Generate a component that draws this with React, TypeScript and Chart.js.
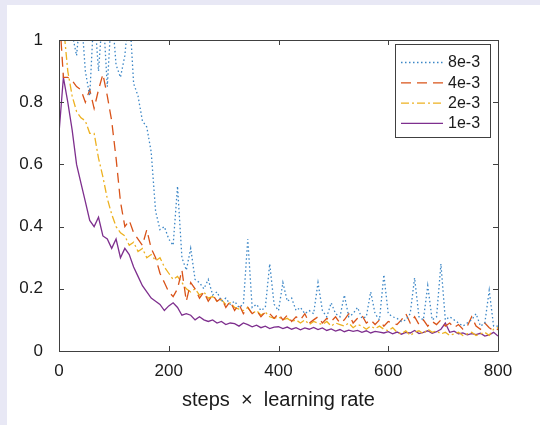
import React, { useEffect, useRef } from "react";
import { Chart, registerables } from "chart.js";

Chart.register(...registerables);

const steps = [
  0, 8, 16, 24, 32, 40, 48, 56, 64, 72, 80, 88, 96, 104, 112, 120, 128, 136, 144, 152,
  160, 168, 176, 184, 192, 200, 208, 216, 224, 232, 240, 248, 256, 264, 272, 280, 288, 296, 304, 312,
  320, 328, 336, 344, 352, 360, 368, 376, 384, 392, 400, 408, 416, 424, 432, 440, 448, 456, 464, 472,
  480, 488, 496, 504, 512, 520, 528, 536, 544, 552, 560, 568, 576, 584, 592, 600, 608, 616, 624, 632,
  640, 648, 656, 664, 672, 680, 688, 696, 704, 712, 720, 728, 736, 744, 752, 760, 768, 776, 784, 792, 800,
];

const lr8e3 = [
  1.1, 1.05, 1.1, 1.02, 0.95, 1.1, 0.9, 0.82, 1.1, 0.9, 1.1, 0.85, 1.1, 0.92, 0.88, 0.95, 1.1, 0.86, 0.82, 0.74,
  0.72, 0.64, 0.45, 0.39, 0.4, 0.36, 0.34, 0.53, 0.3, 0.26, 0.33, 0.23, 0.22, 0.2, 0.23, 0.18, 0.19, 0.16, 0.17, 0.15,
  0.16, 0.14, 0.15, 0.36, 0.14, 0.15, 0.13, 0.14, 0.28, 0.15, 0.13, 0.22, 0.16, 0.17, 0.13, 0.14, 0.12, 0.13, 0.12, 0.22,
  0.13, 0.11, 0.155, 0.12, 0.11, 0.18, 0.11, 0.12, 0.14, 0.105, 0.11, 0.19, 0.12, 0.1, 0.245, 0.12, 0.11, 0.105, 0.095, 0.1,
  0.12, 0.235, 0.11, 0.1, 0.21, 0.1, 0.11, 0.28, 0.1, 0.11, 0.1, 0.09, 0.08, 0.09, 0.1, 0.12, 0.08, 0.09, 0.195, 0.08, 0.08,
];

const lr4e3 = [
  1.1, 0.88, 0.88, 0.87, 0.85, 0.84, 0.8, 0.84, 0.78, 0.84, 0.89, 0.82, 0.74, 0.62, 0.48, 0.4, 0.42, 0.38, 0.36, 0.34,
  0.39, 0.33, 0.3, 0.25, 0.22, 0.19, 0.175, 0.2, 0.26, 0.16, 0.22, 0.2, 0.17, 0.19, 0.16, 0.18, 0.16, 0.17, 0.14, 0.16,
  0.13, 0.15, 0.12, 0.14, 0.12, 0.13, 0.11, 0.125, 0.12, 0.105, 0.12, 0.1, 0.115, 0.095, 0.11, 0.1, 0.12, 0.09, 0.1, 0.11,
  0.09, 0.105, 0.095, 0.11, 0.09, 0.1, 0.12, 0.09, 0.105, 0.115, 0.09, 0.1, 0.085, 0.1, 0.08, 0.095, 0.09, 0.085, 0.1, 0.12,
  0.09, 0.11, 0.085, 0.1, 0.08, 0.095, 0.085, 0.1, 0.08, 0.09, 0.075, 0.085, 0.07, 0.08, 0.11, 0.08, 0.07, 0.09, 0.075, 0.065, 0.07,
];

const lr2e3 = [
  1.05, 1.05, 0.9, 0.82, 0.77, 0.75, 0.74, 0.7, 0.7, 0.62, 0.56, 0.49, 0.44, 0.4, 0.38, 0.37, 0.34, 0.35, 0.32, 0.33,
  0.3, 0.31, 0.29, 0.3, 0.27, 0.25, 0.23, 0.24, 0.22, 0.2, 0.19, 0.2, 0.18, 0.19, 0.17, 0.175, 0.16, 0.165, 0.15, 0.155,
  0.14, 0.135, 0.13, 0.14, 0.12, 0.13, 0.115, 0.125, 0.11, 0.105, 0.11, 0.1, 0.105, 0.095, 0.1, 0.09, 0.1, 0.085, 0.095, 0.09,
  0.085, 0.095, 0.08, 0.09, 0.085, 0.08, 0.09, 0.075, 0.085, 0.08, 0.07, 0.08, 0.072, 0.08, 0.07, 0.065, 0.075, 0.06, 0.055, 0.065,
  0.05, 0.06, 0.065, 0.055, 0.07, 0.06, 0.065, 0.055, 0.06, 0.05, 0.055, 0.06, 0.05, 0.055, 0.06, 0.05, 0.055, 0.06, 0.05, 0.07, 0.075,
];

const lr1e3 = [
  0.7, 0.88, 0.8, 0.71, 0.6, 0.54, 0.48, 0.42, 0.4, 0.43, 0.37, 0.36, 0.33, 0.36, 0.3, 0.33, 0.31, 0.27, 0.24, 0.21,
  0.19, 0.17, 0.16, 0.15, 0.13, 0.145, 0.155, 0.14, 0.115, 0.12, 0.115, 0.1, 0.11, 0.1, 0.095, 0.1, 0.09, 0.095, 0.085, 0.09,
  0.088, 0.08, 0.09, 0.085, 0.078, 0.083, 0.075, 0.08, 0.072, 0.077, 0.078, 0.072, 0.077, 0.07, 0.075, 0.068, 0.074, 0.07, 0.076, 0.069,
  0.074, 0.066, 0.071, 0.064, 0.069, 0.062, 0.067, 0.063, 0.066, 0.06, 0.065, 0.058, 0.063, 0.061, 0.058, 0.062, 0.055, 0.061, 0.054, 0.06,
  0.058, 0.066, 0.056, 0.06, 0.065, 0.057, 0.062, 0.07, 0.09, 0.06, 0.064, 0.055, 0.058, 0.052, 0.056, 0.053, 0.057, 0.048, 0.052, 0.06, 0.048,
];

const seriesLabels = ["8e-3", "4e-3", "2e-3", "1e-3"];
const seriesColors = ["#3b86c6", "#d95319", "#edb120", "#7e2f8e"];
const seriesDashes = [[1.5, 2.5], [10, 6], [8, 3, 2, 3], []];
const xTicks = [0, 200, 400, 600, 800];
const yTicks = [0, 0.2, 0.4, 0.6, 0.8, 1];

const AXIS_COLOR = "#404040";
const TEXT_COLOR = "#1a1a1a";
const FONT = "'Liberation Sans', Arial, sans-serif";

const boxPlugin = {
  id: "matlabBox",
  afterDatasetsDraw(chart: any) {
    const { ctx, chartArea } = chart;
    const { left, right, top, bottom } = chartArea;
    const xs = chart.scales.x;
    const ys = chart.scales.y;
    ctx.save();
    ctx.strokeStyle = AXIS_COLOR;
    ctx.lineWidth = 1;
    ctx.setLineDash([]);
    ctx.beginPath();
    ctx.rect(Math.round(left) + 0.5, Math.round(top) + 0.5, Math.round(right - left), Math.round(bottom - top));
    ctx.stroke();
    const tl = 5;
    ctx.beginPath();
    xTicks.forEach((v) => {
      const px = Math.round(xs.getPixelForValue(v)) + 0.5;
      ctx.moveTo(px, bottom);
      ctx.lineTo(px, bottom - tl);
      ctx.moveTo(px, top);
      ctx.lineTo(px, top + tl);
    });
    yTicks.forEach((v) => {
      const py = Math.round(ys.getPixelForValue(v)) + 0.5;
      ctx.moveTo(left, py);
      ctx.lineTo(left + tl, py);
      ctx.moveTo(right, py);
      ctx.lineTo(right - tl, py);
    });
    ctx.stroke();

    // legend
    const bw = 95;
    const bh = 93;
    const bx = Math.round(right) - 8 - bw;
    const by = Math.round(top) + 4;
    ctx.fillStyle = "#ffffff";
    ctx.fillRect(bx, by, bw, bh);
    ctx.strokeStyle = AXIS_COLOR;
    ctx.strokeRect(bx + 0.5, by + 0.5, bw, bh);
    ctx.font = `16px ${FONT}`;
    ctx.textBaseline = "middle";
    ctx.textAlign = "left";
    seriesLabels.forEach((lab, i) => {
      const ly = by + 18 + i * 20.3;
      ctx.beginPath();
      ctx.strokeStyle = seriesColors[i];
      ctx.lineWidth = 1.3;
      ctx.setLineDash(seriesDashes[i]);
      ctx.moveTo(bx + 6, ly + 0.5);
      ctx.lineTo(bx + 48, ly + 0.5);
      ctx.stroke();
      ctx.setLineDash([]);
      ctx.fillStyle = TEXT_COLOR;
      ctx.fillText(lab, bx + 53, ly + 1);
    });
    ctx.restore();
  },
};

export default function App() {
  const ref = useRef<HTMLCanvasElement | null>(null);
  useEffect(() => {
    if (!ref.current) return;
    const series = [lr8e3, lr4e3, lr2e3, lr1e3];
    const chart = new Chart(ref.current, {
      type: "line",
      data: {
        labels: steps,
        datasets: series.map((d, i) => ({
          label: seriesLabels[i],
          data: d,
          borderColor: seriesColors[i],
          borderWidth: 1.3,
          borderDash: seriesDashes[i],
          pointRadius: 0,
          tension: 0,
          fill: false,
          clip: 0,
        })),
      },
      options: {
        responsive: false,
        animation: false,
        events: [],
        layout: { padding: { left: 0, top: 35, right: 42, bottom: 0 } },
        plugins: { legend: { display: false }, tooltip: { enabled: false } },
        scales: {
          x: {
            type: "linear",
            min: 0,
            max: 800,
            afterFit: (s: any) => {
              s.height = 74;
            },
            afterBuildTicks: (s: any) => {
              s.ticks = xTicks.map((v) => ({ value: v }));
            },
            grid: { display: false },
            border: { display: false },
            ticks: {
              padding: 2,
              color: TEXT_COLOR,
              font: { family: FONT, size: 17 },
              maxRotation: 0,
              autoSkip: false,
              callback: (v: any) => String(v),
            },
            title: {
              display: true,
              text: "steps  ×  learning rate",
              color: TEXT_COLOR,
              font: { family: FONT, size: 20 },
              padding: { top: 0, bottom: 13 },
            },
          },
          y: {
            type: "linear",
            min: 0,
            max: 1,
            afterFit: (s: any) => {
              s.width = 52;
            },
            afterBuildTicks: (s: any) => {
              s.ticks = yTicks.map((v) => ({ value: v }));
            },
            grid: { display: false },
            border: { display: false },
            ticks: {
              padding: 8,
              color: TEXT_COLOR,
              font: { family: FONT, size: 17 },
              autoSkip: false,
              callback: (v: any) => String(Math.round(Number(v) * 10) / 10),
            },
          },
        },
      },
      plugins: [boxPlugin],
    });
    return () => chart.destroy();
  }, []);

  return (
    <div
      style={{
        position: "absolute",
        left: 0,
        top: 0,
        width: 540,
        height: 425,
        background: "#e8e8f5",
        overflow: "hidden",
      }}
    >
      <div
        style={{
          position: "absolute",
          left: 7,
          top: 5,
          width: 533,
          height: 420,
          background: "#ffffff",
        }}
      >
        <canvas ref={ref} width={533} height={420} style={{ display: "block" }} />
      </div>
    </div>
  );
}
